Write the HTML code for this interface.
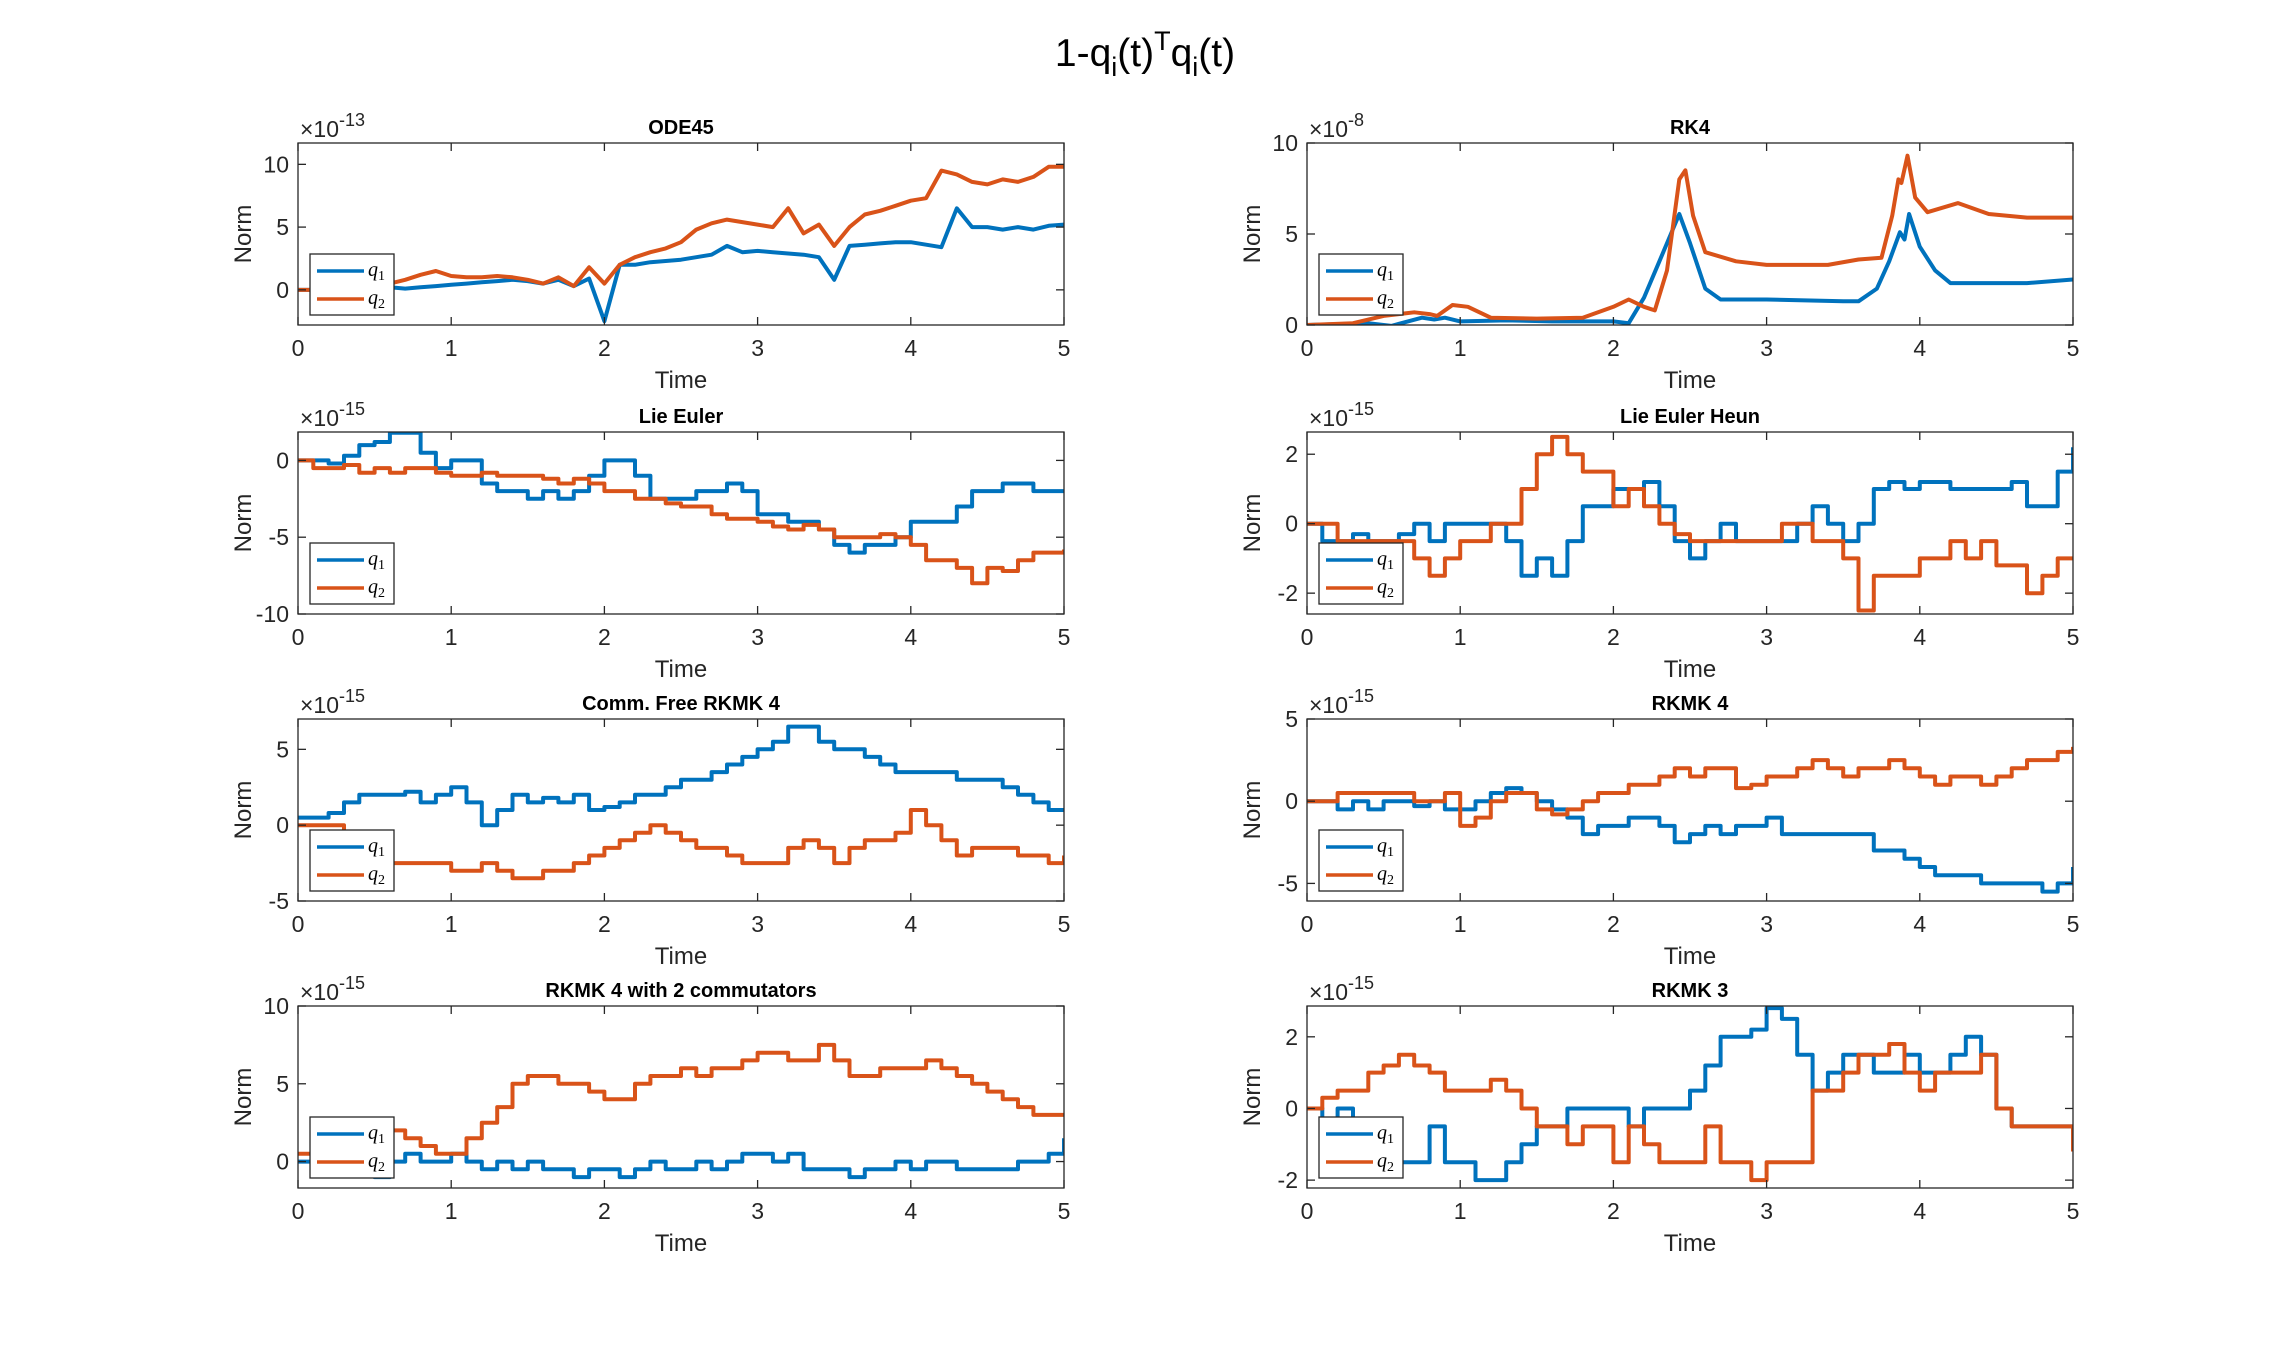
<!DOCTYPE html>
<html><head><meta charset="utf-8">
<style>
html,body{margin:0;padding:0;background:#fff;}
svg{display:block;font-family:"Liberation Sans",sans-serif;}
</style></head>
<body>
<svg id="fig" width="2290" height="1350" viewBox="0 0 2290 1350" xmlns="http://www.w3.org/2000/svg">
<text x="1145" y="66" text-anchor="middle" font-size="39" fill="#000">1-q<tspan font-size="27" dy="10">i</tspan><tspan dy="-10">(t)</tspan><tspan font-size="27" dy="-16">T</tspan><tspan dy="16">q</tspan><tspan font-size="27" dy="10">i</tspan><tspan dy="-10">(t)</tspan></text>
</svg>
<script>
const timeStep = [];
for (let i = 0; i <= 50; i++) timeStep.push(i / 10);
const xTicks = [0, 1, 2, 3, 4, 5];

const ode45Q1 = [0,0,0.1,0,0.1,0.1, 0.2,0.1,0.2,0.3,0.4, 0.5,0.6,0.7,0.8,0.7, 0.5,0.8,0.3,0.9,-2.5, 2.0,2.0,2.2,2.3,2.4, 2.6,2.8,3.5,3.0,3.1, 3.0,2.9,2.8,2.6,0.8, 3.5,3.6,3.7,3.8,3.8, 3.6,3.4,6.5,5.0,5.0, 4.8,5.0,4.8,5.1,5.2];
const ode45Q2 = [0,0,0.1,0.1,0.2,0.2, 0.5,0.8,1.2,1.5,1.1, 1.0,1.0,1.1,1.0,0.8, 0.5,1.0,0.3,1.8,0.5, 2.0,2.6,3.0,3.3,3.8, 4.8,5.3,5.6,5.4,5.2, 5.0,6.5,4.5,5.2,3.5, 5.0,6.0,6.3,6.7,7.1, 7.3,9.5,9.2,8.6,8.4, 8.8,8.6,9.0,9.8,9.8];

const rk4T1 = [0,0.4,0.55,0.75,0.83,0.9,1.0,1.3,1.6,2.0,2.1,2.2,2.3,2.43,2.5,2.6,2.7,3.0,3.5,3.6,3.72,3.8,3.87,3.9,3.93,4.0,4.1,4.2,4.4,4.7,5.0];
const rk4Q1 = [0,0.1,-0.05,0.4,0.3,0.4,0.2,0.25,0.2,0.2,0.1,1.5,3.5,6.1,4.5,2.0,1.4,1.4,1.3,1.3,2.0,3.5,5.1,4.7,6.1,4.3,3.0,2.3,2.3,2.3,2.5];
const rk4T2 = [0,0.3,0.5,0.7,0.8,0.85,0.95,1.05,1.2,1.5,1.8,2.0,2.1,2.2,2.27,2.35,2.43,2.47,2.52,2.6,2.8,3.0,3.4,3.6,3.75,3.82,3.86,3.88,3.92,3.97,4.05,4.25,4.45,4.7,5.0];
const rk4Q2 = [0,0.1,0.5,0.7,0.6,0.5,1.1,1.0,0.4,0.35,0.4,1.0,1.4,1.0,0.8,3.0,8.0,8.5,6.0,4.0,3.5,3.3,3.3,3.6,3.7,6.0,8.0,7.8,9.3,7.0,6.2,6.7,6.1,5.9,5.9];

const lieEulerQ1 = [0,0,-0.2,0.3,1,1.2,1.8,1.8,0.5,-0.5,0,0,-1.5,-2,-2,-2.5,-2,-2.5,-2,-1,0,0,-1,-2.5,-2.5,-2.5,-2,-2,-1.5,-2,-3.5,-3.5,-4,-4,-4.5,-5.5,-6,-5.5,-5.5,-5,-4,-4,-4,-3,-2,-2,-1.5,-1.5,-2,-2,-2];
const lieEulerQ2 = [0,-0.5,-0.5,-0.3,-0.8,-0.5,-0.8,-0.5,-0.5,-0.8,-1,-1,-0.8,-1,-1,-1,-1.2,-1.5,-1.2,-1.5,-2,-2,-2.5,-2.5,-2.8,-3,-3,-3.5,-3.8,-3.8,-4,-4.3,-4.5,-4.2,-4.5,-5,-5,-5,-4.8,-5,-5.5,-6.5,-6.5,-7,-8,-7,-7.2,-6.5,-6,-6,-5.8];

const heunQ1 = [0,-0.5,-0.5,-0.3,-0.5,-0.5,-0.3,0,-0.5,0,0,0,0,-0.5,-1.5,-1,-1.5,-0.5,0.5,0.5,1,1,1.2,0.5,-0.5,-1,-0.5,0,-0.5,-0.5,-0.5,-0.5,0,0.5,0,-0.5,0,1,1.2,1,1.2,1.2,1,1,1,1,1.2,0.5,0.5,1.5,2.2];
const heunQ2 = [0,0,-0.5,-0.5,-0.5,-0.5,-0.5,-1,-1.5,-1,-0.5,-0.5,0,0,1,2,2.5,2,1.5,1.5,0.5,1,0.5,0,-0.3,-0.5,-0.5,-0.5,-0.5,-0.5,-0.5,0,0,-0.5,-0.5,-1,-2.5,-1.5,-1.5,-1.5,-1,-1,-0.5,-1,-0.5,-1.2,-1.2,-2,-1.5,-1,-1];

const commFreeQ1 = [0.5,0.5,0.8,1.5,2,2,2,2.2,1.5,2,2.5,1.5,0,1,2,1.5,1.8,1.5,2,1,1.2,1.5,2,2,2.5,3,3,3.5,4,4.5,5,5.5,6.5,6.5,5.5,5,5,4.5,4,3.5,3.5,3.5,3.5,3,3,3,2.5,2,1.5,1,1];
const commFreeQ2 = [0,0,0,-1,-1.5,-2,-2.5,-2.5,-2.5,-2.5,-3,-3,-2.5,-3,-3.5,-3.5,-3,-3,-2.5,-2,-1.5,-1,-0.5,0,-0.5,-1,-1.5,-1.5,-2,-2.5,-2.5,-2.5,-1.5,-1,-1.5,-2.5,-1.5,-1,-1,-0.5,1,0,-1,-2,-1.5,-1.5,-1.5,-2,-2,-2.5,-2];

const rkmk4Q1 = [0,0,-0.5,0,-0.5,0,0,-0.3,0,-0.5,-0.5,0,0.5,0.8,0.5,0,-0.5,-1,-2,-1.5,-1.5,-1,-1,-1.5,-2.5,-2,-1.5,-2,-1.5,-1.5,-1,-2,-2,-2,-2,-2,-2,-3,-3,-3.5,-4,-4.5,-4.5,-4.5,-5,-5,-5,-5,-5.5,-5,-4];
const rkmk4Q2 = [0,0,0.5,0.5,0.5,0.5,0.5,0,0,0.5,-1.5,-1,0,0.5,0.5,-0.5,-0.8,-0.5,0,0.5,0.5,1,1,1.5,2,1.5,2,2,0.8,1,1.5,1.5,2,2.5,2,1.5,2,2,2.5,2,1.5,1,1.5,1.5,1,1.5,2,2.5,2.5,3,3.3];

const rkmk4cQ1 = [0,0.5,0,-0.5,-0.5,-1,0,0.5,0,0,0.5,0,-0.5,0,-0.5,0,-0.5,-0.5,-1,-0.5,-0.5,-1,-0.5,0,-0.5,-0.5,0,-0.5,0,0.5,0.5,0,0.5,-0.5,-0.5,-0.5,-1,-0.5,-0.5,0,-0.5,0,0,-0.5,-0.5,-0.5,-0.5,0,0,0.5,1.5];
const rkmk4cQ2 = [0.5,0.5,1,1.5,1.5,2,2,1.5,1,0.5,0.5,1.5,2.5,3.5,5,5.5,5.5,5,5,4.5,4,4,5,5.5,5.5,6,5.5,6,6,6.5,7,7,6.5,6.5,7.5,6.5,5.5,5.5,6,6,6,6.5,6,5.5,5,4.5,4,3.5,3,3,3];

const rkmk3Q1 = [0,-0.5,0,-0.5,-1,-1,-1.5,-1.5,-0.5,-1.5,-1.5,-2,-2,-1.5,-1,-0.5,-0.5,0,0,0,0,-0.5,0,0,0,0.5,1.2,2,2,2.2,2.8,2.5,1.5,0.5,1,1.5,1.5,1,1,1.5,1,1,1.5,2,1.5,0,-0.5,-0.5,-0.5,-0.5,-0.5];
const rkmk3Q2 = [0,0.3,0.5,0.5,1,1.2,1.5,1.2,1,0.5,0.5,0.5,0.8,0.5,0,-0.5,-0.5,-1,-0.5,-0.5,-1.5,-0.5,-1,-1.5,-1.5,-1.5,-0.5,-1.5,-1.5,-2,-1.5,-1.5,-1.5,0.5,0.5,1,1.5,1.5,1.8,1,0.5,1,1,1,1.5,0,-0.5,-0.5,-0.5,-0.5,-1.2];

const panels = [
 {name:'ode45', title:'ODE45', exp:'-13', col:0, row:0, step:false, ymin:-2.8, ymax:11.7, yticks:[0,5,10], t1:timeStep, q1:ode45Q1, t2:timeStep, q2:ode45Q2},
 {name:'rk4', title:'RK4', exp:'-8', col:1, row:0, step:false, ymin:0, ymax:10, yticks:[0,5,10], t1:rk4T1, q1:rk4Q1, t2:rk4T2, q2:rk4Q2},
 {name:'lie-euler', title:'Lie Euler', exp:'-15', col:0, row:1, step:true, ymin:-10, ymax:1.85, yticks:[-10,-5,0], t1:timeStep, q1:lieEulerQ1, t2:timeStep, q2:lieEulerQ2},
 {name:'lie-euler-heun', title:'Lie Euler Heun', exp:'-15', col:1, row:1, step:true, ymin:-2.6, ymax:2.64, yticks:[-2,0,2], t1:timeStep, q1:heunQ1, t2:timeStep, q2:heunQ2},
 {name:'comm-free-rkmk4', title:'Comm. Free RKMK 4', exp:'-15', col:0, row:2, step:true, ymin:-5, ymax:7, yticks:[-5,0,5], t1:timeStep, q1:commFreeQ1, t2:timeStep, q2:commFreeQ2},
 {name:'rkmk4', title:'RKMK 4', exp:'-15', col:1, row:2, step:true, ymin:-6.07, ymax:5, yticks:[-5,0,5], t1:timeStep, q1:rkmk4Q1, t2:timeStep, q2:rkmk4Q2},
 {name:'rkmk4-2comm', title:'RKMK 4 with 2 commutators', exp:'-15', col:0, row:3, step:true, ymin:-1.7, ymax:10, yticks:[0,5,10], t1:timeStep, q1:rkmk4cQ1, t2:timeStep, q2:rkmk4cQ2},
 {name:'rkmk3', title:'RKMK 3', exp:'-15', col:1, row:3, step:true, ymin:-2.22, ymax:2.86, yticks:[-2,0,2], t1:timeStep, q1:rkmk3Q1, t2:timeStep, q2:rkmk3Q2}
];

const NS = 'http://www.w3.org/2000/svg';
const fig = document.getElementById('fig');
const colX = [298, 1307], rowY = [143, 432, 719, 1006];
const W = 766, H = 182;
function mk(tag, attrs, parent, text) {
  const e = document.createElementNS(NS, tag);
  for (const k in attrs) e.setAttribute(k, attrs[k]);
  if (text !== undefined) e.textContent = text;
  parent.appendChild(e);
  return e;
}

panels.forEach(p => {
  const x0 = colX[p.col], y0 = rowY[p.row];
  const xs = t => x0 + t / 5 * W;
  const ys = v => y0 + H - (v - p.ymin) / (p.ymax - p.ymin) * H;
  const g = mk('g', {}, fig);
  
  
  const clipId = 'clip-' + p.name;
  const cp = mk('clipPath', {id: clipId}, g);
  mk('rect', {x: x0, y: y0, width: W, height: H}, cp);
  [[p.t1, p.q1, '#0072BD', 'q1'], [p.t2, p.q2, '#D95319', 'q2']].forEach(s => {
    const arr = [];
    s[1].forEach((v, i) => {
      const x = xs(s[0][i]), y = ys(v);
      if (p.step && i > 0) arr.push(x.toFixed(1) + ',' + ys(s[1][i - 1]).toFixed(1));
      arr.push(x.toFixed(1) + ',' + y.toFixed(1));
    });
    const pl = mk('polyline', {points: arr.join(' '), fill: 'none', stroke: s[2], 'stroke-width': 4, 'stroke-linejoin': 'round', 'clip-path': 'url(#' + clipId + ')'}, g);
    
    
  });
  const box = mk('rect', {x: x0, y: y0, width: W, height: H, fill: 'none', stroke: '#262626', 'stroke-width': 1.3}, g);
  
  
  xTicks.forEach(t => {
    const x = xs(t);
    mk('line', {x1: x, y1: y0 + H, x2: x, y2: y0 + H - 8, stroke: '#262626', 'stroke-width': 1.3}, g);
    mk('line', {x1: x, y1: y0, x2: x, y2: y0 + 8, stroke: '#262626', 'stroke-width': 1.3}, g);
    const tl = mk('text', {x: x, y: y0 + H + 31, 'text-anchor': 'middle', 'font-size': 23, fill: '#262626'}, g, String(t));
    
    
  });
  p.yticks.forEach(v => {
    const y = ys(v);
    mk('line', {x1: x0, y1: y, x2: x0 + 8, y2: y, stroke: '#262626', 'stroke-width': 1.3}, g);
    mk('line', {x1: x0 + W, y1: y, x2: x0 + W - 8, y2: y, stroke: '#262626', 'stroke-width': 1.3}, g);
    const tl = mk('text', {x: x0 - 9, y: y + 8, 'text-anchor': 'end', 'font-size': 23, fill: '#262626'}, g, String(v));
    
    
  });
  const ex = mk('text', {x: x0 + 2, y: y0 - 6, 'font-size': 23, fill: '#262626'}, g);
  
  
  mk('tspan', {}, ex, '\u00d710');
  mk('tspan', {dy: -11, 'font-size': 18}, ex, p.exp);
  const tt = mk('text', {x: x0 + W / 2, y: y0 - 9, 'text-anchor': 'middle', 'font-size': 20, 'font-weight': 'bold', fill: '#000'}, g, p.title);
  
  
  const xl = mk('text', {x: x0 + W / 2, y: y0 + H + 63, 'text-anchor': 'middle', 'font-size': 24, fill: '#262626'}, g, 'Time');
  
  
  const cy = y0 + H / 2;
  const yl = mk('text', {x: x0 - 47, y: cy, 'text-anchor': 'middle', 'font-size': 24, fill: '#262626', transform: 'rotate(-90 ' + (x0 - 47) + ' ' + cy + ')'}, g, 'Norm');
  
  
  const lg = mk('g', {}, g);
  
  
  const lx = x0 + 12, ly = y0 + H - 71;
  mk('rect', {x: lx, y: ly, width: 84, height: 61, fill: '#fff', stroke: '#262626', 'stroke-width': 1.3}, lg);
  [['#0072BD', '1', 17], ['#D95319', '2', 45]].forEach(e => {
    const le = mk('g', {}, lg);
    
    
    mk('line', {x1: lx + 7, y1: ly + e[2], x2: lx + 54, y2: ly + e[2], stroke: e[0], 'stroke-width': 3.5}, le);
    const t = mk('text', {x: lx + 58, y: ly + e[2] + 5, 'font-size': 20, 'font-style': 'italic', 'font-family': '"Liberation Serif",serif', fill: '#000'}, le, 'q');
    mk('tspan', {dy: 4, 'font-size': 14, 'font-style': 'normal'}, t, e[1]);
  });
});
</script>
</body></html>
